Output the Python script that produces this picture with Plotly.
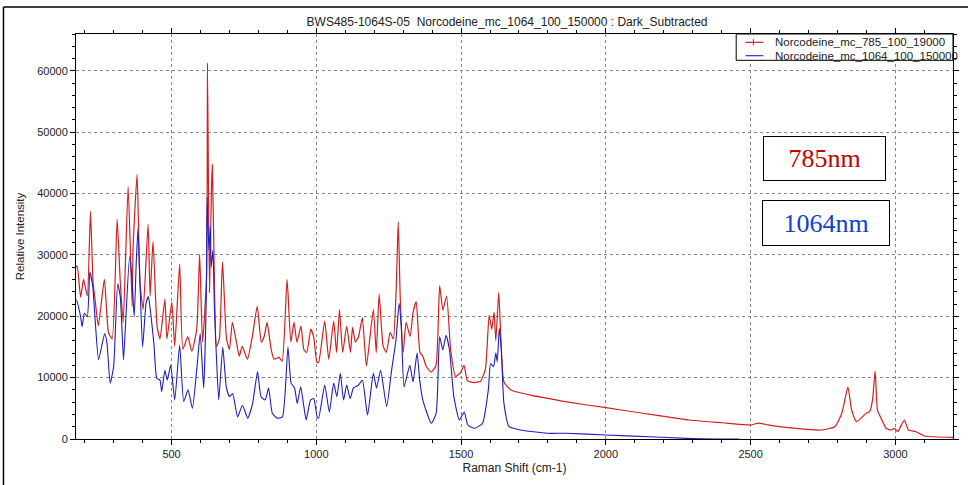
import plotly.graph_objects as go

# ---- data (Raman shift cm-1, relative intensity) ----
red_name = "Norcodeine_mc_785_100_19000"
blue_name = "Norcodeine_mc_1064_100_150000"

red_x = [170, 174, 186, 196, 209, 220, 229, 237, 247, 268, 282, 295, 312, 323, 333, 350, 364, 367,
         381, 391, 402, 419, 426, 436, 450, 460, 477, 484, 501, 511, 528, 539, 556, 570, 587, 597,
         607, 621, 624, 631, 638, 641, 648, 655, 665, 676, 690, 700, 710, 724, 734, 744, 762, 779,
         796, 810, 820, 830, 844, 854, 871, 882, 899, 912, 923, 933, 947, 957, 967, 981, 991, 1002,
         1008, 1029, 1043, 1060, 1070, 1080, 1091, 1105, 1118, 1125, 1135, 1146, 1159, 1173, 1197,
         1207, 1217, 1231, 1242, 1255, 1266, 1276, 1283, 1290, 1300, 1310, 1324, 1334, 1345, 1358,
         1368, 1379, 1396, 1413, 1426, 1437, 1450, 1464, 1481, 1499, 1510, 1522, 1545, 1567, 1584,
         1597, 1606, 1614, 1620, 1630, 1637, 1648, 1672, 1735, 1790, 1870, 2000, 2117, 2287, 2402,
         2500, 2527, 2560, 2630, 2746, 2791, 2815, 2836, 2849, 2866, 2900, 2911, 2921, 2930, 2938,
         2948, 2968, 2985, 2997, 3008, 3031, 3045, 3071, 3100, 3199]
red_y = [28000, 28200, 23100, 26000, 23300, 37100, 25500, 22300, 18400, 26000, 17400, 16300, 35800,
         25500, 19000, 41100, 21600, 30900, 43100, 25500, 21100, 35000, 23300, 32200, 18400, 16300,
         22800, 16300, 22300, 15100, 28500, 14600, 16700, 14300, 17900, 30100, 15800, 26500, 61300,
         23900, 41100, 44700, 25500, 15100, 16300, 28900, 16300, 14600, 19000, 15800, 13500, 15100,
         13000, 16700, 21600, 15800, 16700, 19000, 14600, 13000, 13300, 12700, 26000, 15800, 19000,
         15800, 18400, 14600, 14100, 17900, 16600, 12500, 12500, 19200, 13000, 19200, 14100, 21100,
         14100, 18400, 14100, 18200, 15800, 16700, 19800, 11900, 21100, 14100, 23600, 15100, 14100,
         17400, 16300, 24700, 35400, 22800, 14100, 19000, 16700, 20600, 22400, 14100, 13500, 11900,
         10900, 11900, 25000, 21000, 23300, 14500, 10200, 10900, 12000, 9500, 9200, 9400, 11400,
         20200, 17900, 20700, 16000, 23900, 17000, 9300, 8000, 7200, 6700, 6000, 5100, 4280, 3100,
         2650, 2280, 2600, 2300, 1840, 1470, 2000, 4200, 8460, 4720, 2820, 4230, 4450, 6350, 11100,
         4720, 3630, 1740, 1470, 1740, 1190, 3090, 1470, 1190, 490, 280]

blue_x = [170, 172, 186, 191, 199, 209, 218, 228, 237, 248, 269, 277, 288, 300, 314, 323, 334, 340,
          355, 363, 371, 378, 384, 391, 400, 412, 420, 428, 439, 449, 460, 466, 477, 485, 497, 511,
          528, 542, 557, 572, 588, 599, 611, 620, 623, 629, 634, 637, 643, 648, 654, 663, 677, 689,
          700, 711, 728, 745, 763, 780, 797, 809, 823, 835, 848, 865, 883, 902, 913, 925, 934, 946,
          957, 965, 980, 991, 1003, 1008, 1029, 1045, 1060, 1071, 1083, 1094, 1105, 1117, 1128, 1146,
          1159, 1177, 1197, 1208, 1222, 1243, 1260, 1275, 1286, 1294, 1303, 1323, 1334, 1348, 1357,
          1368, 1397, 1414, 1426, 1437, 1448, 1460, 1475, 1494, 1511, 1523, 1546, 1574, 1594, 1602,
          1612, 1620, 1625, 1632, 1639, 1648, 1666, 1705, 1797, 1865, 2000, 2150, 2277, 2380, 2460]
blue_y = [22600, 22600, 19900, 18300, 20500, 19900, 27200, 24800, 18800, 12900, 17200, 15600, 9100,
          11800, 25300, 23200, 12900, 17700, 29700, 26400, 19900, 28600, 34300, 25300, 15000, 22100,
          23200, 20500, 15600, 9900, 9600, 7700, 11200, 9600, 12000, 6350, 15300, 6100, 8000, 5000,
          11800, 17200, 8300, 23200, 39400, 30800, 34600, 28000, 30800, 21500, 14500, 6350, 15000,
          8500, 6900, 7400, 3600, 5500, 3400, 5800, 11000, 6900, 6350, 8300, 4200, 3400, 3600, 15000,
          9100, 8300, 5800, 8500, 5300, 3100, 6350, 6600, 3600, 3400, 8800, 4400, 9100, 6900, 10700,
          6350, 8800, 6600, 8300, 8800, 9600, 3900, 10700, 8300, 11200, 5300, 11200, 16100, 22100,
          17700, 8500, 12000, 9300, 14000, 9600, 6350, 2560, 4200, 16700, 14500, 16900, 14500, 6900,
          3100, 4400, 2280, 1740, 2560, 8000, 12300, 11800, 14000, 12600, 18000, 14500, 5800, 2000,
          1470, 930, 930, 650, 370, 110, 0, 0]

title_text = "BWS485-1064S-05  Norcodeine_mc_1064_100_150000 : Dark_Subtracted"
x_title = "Raman Shift (cm-1)"
y_title = "Relative Intensity"
label_785 = "785nm"
label_1064 = "1064nm"

FONT = "Liberation Sans, Arial, sans-serif"
RED = "rgb(208,32,32)"
BLUE = "rgb(30,30,190)"

fig = go.Figure()
fig.add_trace(go.Scatter(x=red_x, y=red_y, mode="lines", name=red_name, showlegend=False,
                         line=dict(color=RED, width=1.2, shape="spline", smoothing=0.5)))
fig.add_trace(go.Scatter(x=blue_x, y=blue_y, mode="lines", name=blue_name, showlegend=False,
                         line=dict(color=BLUE, width=1.1, shape="spline", smoothing=0.5)))

axis_common = dict(showline=True, linecolor="black", linewidth=1, mirror="ticks",
                   ticks="outside", ticklen=5, tickcolor="black",
                   showgrid=True, gridcolor="#888", griddash="dot", gridwidth=1,
                   zeroline=False, tickfont=dict(family=FONT, size=11, color="#222"))

fig.update_xaxes(range=[170, 3199], dtick=500, tick0=0,
                 minor=dict(dtick=100, ticks="outside", ticklen=3, tickcolor="black", showgrid=False),
                 title=dict(text=x_title, font=dict(family=FONT, size=12, color="#222"), standoff=4),
                 **axis_common)
fig.update_yaxes(range=[0, 66000], dtick=10000, tick0=0, tickformat="d",
                 minor=dict(dtick=2000, ticks="outside", ticklen=3, tickcolor="black", showgrid=False),
                 title=dict(text=y_title, font=dict(family=FONT, size=11.5, color="#222"), standoff=10),
                 **axis_common)

# hand-built compact legend box (paper coordinates of the plot area)
lg_x0, lg_x1 = 0.7528, 1.0
lg_y0, lg_y1 = 0.935, 1.0
row_y = [0.9795, 0.9464]
seg_x0, seg_x1, txt_x = 0.7633, 0.7837, 0.7953
legend_shapes = [
    dict(type="rect", xref="paper", yref="paper", x0=lg_x0, x1=lg_x1, y0=lg_y0, y1=lg_y1,
         fillcolor="white", line=dict(color="black", width=1), layer="above"),
    dict(type="line", xref="paper", yref="paper", x0=seg_x0, x1=seg_x1, y0=row_y[0], y1=row_y[0],
         line=dict(color=RED, width=1.2), layer="above"),
    dict(type="line", xref="paper", yref="paper", x0=0.7724, x1=0.7724, y0=row_y[0] - 0.008,
         y1=row_y[0] + 0.008, line=dict(color=RED, width=1), layer="above"),
    dict(type="line", xref="paper", yref="paper", x0=seg_x0, x1=seg_x1, y0=row_y[1], y1=row_y[1],
         line=dict(color=BLUE, width=1.1), layer="above"),
]
legend_texts = [
    dict(text=name, xref="paper", yref="paper", x=txt_x, y=yy, xanchor="left", yanchor="middle",
         showarrow=False, font=dict(family=FONT, size=11.5, color="#222"))
    for name, yy in zip([red_name, blue_name], row_y)
]

fig.update_layout(
    width=968, height=485,
    margin=dict(l=76, r=9, t=34, b=46),
    paper_bgcolor="white", plot_bgcolor="white",
    title=dict(text=title_text, x=0.4915, xref="paper", xanchor="center",
               y=1 - 22 / 485, yref="container", yanchor="middle",
               font=dict(family=FONT, size=12, color="#222")),
    annotations=legend_texts + [
        dict(text=label_785, xref="paper", yref="paper", x=0.8537, y=0.6926,
             xanchor="center", yanchor="middle", showarrow=False, width=121, height=43,
             bordercolor="black", borderwidth=1, borderpad=0, bgcolor="white",
             font=dict(family="Liberation Serif, Times New Roman, serif", size=26, color="#C00000")),
        dict(text=label_1064, xref="paper", yref="paper", x=0.8547, y=0.533,
             xanchor="center", yanchor="middle", showarrow=False, width=126, height=44,
             bordercolor="black", borderwidth=1, borderpad=0, bgcolor="white",
             font=dict(family="Liberation Serif, Times New Roman, serif", size=26, color="#1040D0")),
    ],
    shapes=legend_shapes + [
        dict(type="line", xref="paper", yref="paper", x0=-0.0827, x1=1.02, y0=1.0667, y1=1.0667,
             line=dict(color="black", width=1.5)),
        dict(type="line", xref="paper", yref="paper", x0=-0.0827, x1=-0.0827, y0=1.0667, y1=-0.2,
             line=dict(color="black", width=1.5)),
    ],
)

fig.write_html("out.html")
